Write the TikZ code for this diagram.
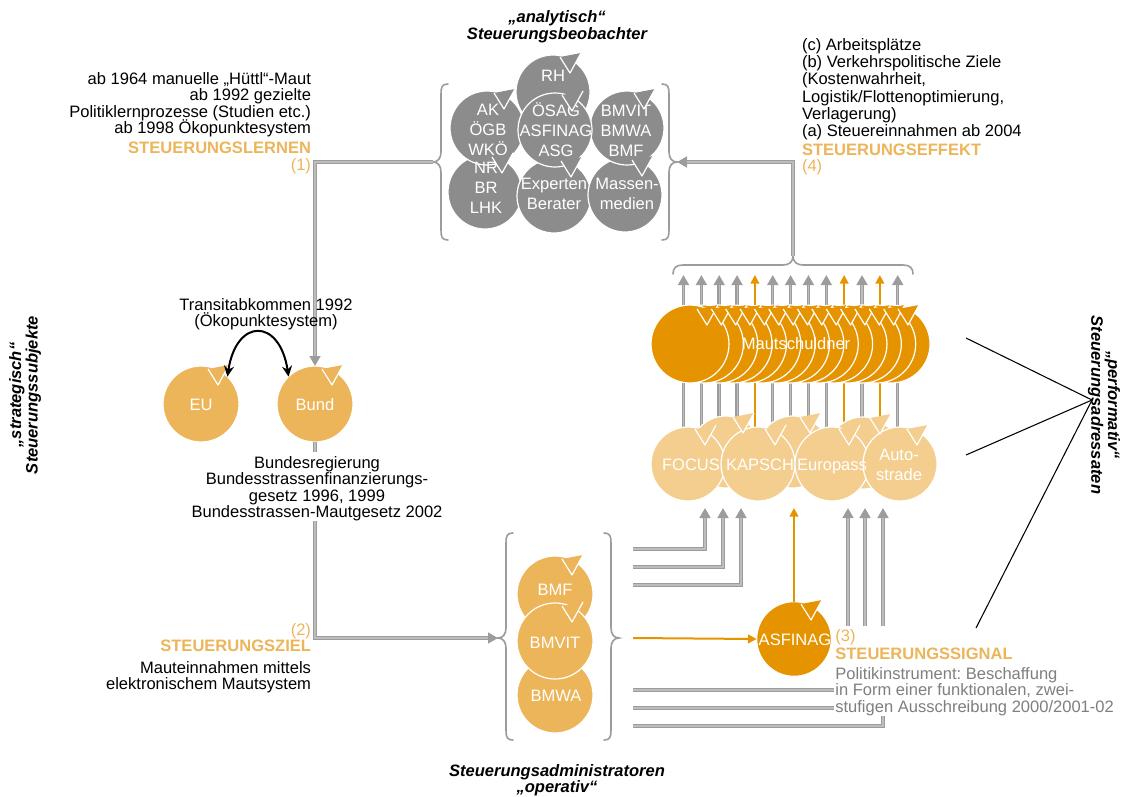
\documentclass[tikz,border=0pt]{standalone}
\usepackage{fontspec}
\setmainfont{Liberation Sans}
\usetikzlibrary{arrows.meta,calc}
\frenchspacing
\definecolor{cgray}{HTML}{8C8C8C}
\definecolor{cmid}{HTML}{EDB55A}
\definecolor{clight}{HTML}{F3CE8E}
\definecolor{cdark}{HTML}{E59400}
\definecolor{lgray}{HTML}{BDBDBD}
\definecolor{bgray}{HTML}{9C9C9C}
\definecolor{tgray}{HTML}{7F7F7F}
\newcommand\myfs{\fontsize{12.4pt}{12.4pt}\selectfont\lineskiplimit=-20pt\lineskip=0pt}
\newcommand\myfsb{\fontsize{12.4pt}{13pt}\selectfont\lineskiplimit=-20pt\lineskip=0pt}
\newcommand\myfsc{\fontsize{12.4pt}{15pt}\selectfont\lineskiplimit=-20pt\lineskip=0pt}
\newcommand\firststrut{\rule{0pt}{12pt}}
\newcommand\circtri[2]{%
  \fill[#2] ($(#1.center)+(7,-35)$) -- ($(#1.center)+(17,-19)$) -- ($(#1.center)+(28,-39)$) -- cycle;
  \draw[white,line width=0.9pt,line join=round] ($(#1.center)+(7,-35)$) -- ($(#1.center)+(17,-19)$) -- ($(#1.center)+(28,-39)$);}
\tikzset{
  zsep/.style={inner sep=0pt, outer sep=0pt},
  txt/.style={zsep, font=\myfs, text=black},
  otxt/.style={zsep, font=\myfs, text=cmid},
  ttl/.style={zsep, font=\myfs\bfseries\itshape, text=black},
  ctxt/.style={zsep, font=\myfsc, text=white, align=center},
  circbase/.style={circle, inner sep=0pt, outer sep=0pt, draw=white, line width=0.9pt},
  circg/.style={circbase, minimum size=55.5pt, fill=cgray},
  circm/.style={circbase, minimum size=57pt, fill=cmid},
  circl/.style={circbase, minimum size=55.5pt, fill=clight},
  circlb/.style={circbase, minimum size=54pt, fill=clight},
  circd/.style={circbase, minimum size=58.5pt, fill=cdark},
  circa/.style={circbase, minimum size=56pt, fill=cdark},
  garrow/.style={draw=bgray, line width=2.6pt, -{Triangle[length=7.5pt,width=8pt]},
     postaction={draw=lgray, line width=0.8pt, -, shorten >=7.5pt}},
  oarrow/.style={draw=cdark, line width=1.5pt, -{Triangle[length=6.5pt,width=6.5pt]}},
  bracepath/.style={draw=bgray, line width=1.2pt, line cap=round},
  bline/.style={draw=black, line width=0.8pt},
  blkarrow/.style={draw=black, line width=1.5pt, {Stealth[length=8pt,width=7.5pt]}-{Stealth[length=8pt,width=7.5pt]}},
}
\begin{document}
\begin{tikzpicture}[x=0.75pt,y=-0.75pt]
\useasboundingbox (0,0) rectangle (1123,796);
\fill[white] (0,0) rectangle (1123,796);

% ---------- titles
\node[ttl,anchor=base] (tA1) at (557,22) {„analytisch“};
\node[ttl,anchor=base] (tA2) at (557,39) {Steuerungsbeobachter};
\node[ttl,anchor=base] (tB1) at (557,776) {Steuerungsadministratoren};
\node[ttl,anchor=base] (tB2) at (557,792) {„operativ“};
\node[ttl,rotate=90,align=center] (tL) at (25,395) {„strategisch“\\Steuerungssubjekte};
\node[ttl,rotate=-90,align=center] (tR) at (1104,405) {„performativ“\\Steuerungsadressaten};

% ---------- braces
\coordinate (cbl) at (433,162);
\coordinate (cbr) at (677,162);
\coordinate (bbl) at (498,638);
\coordinate (bbr) at (619,638);
\coordinate (mbt) at (793,256);
\draw[bracepath] (448,84) .. controls (442,84) and (441,87) .. (441,94) -- (441,152) .. controls (441,158) and (438,162) .. (cbl) .. controls (438,162) and (441,166) .. (441,172) -- (441,230) .. controls (441,237) and (442,240) .. (448,240);
\draw[bracepath] (662,84) .. controls (668,84) and (669,87) .. (669,94) -- (669,152) .. controls (669,158) and (672,162) .. (cbr) .. controls (672,162) and (669,166) .. (669,172) -- (669,230) .. controls (669,237) and (668,240) .. (662,240);
\draw[bracepath] (513,533) .. controls (507,533) and (506,536) .. (506,543) -- (506,628) .. controls (506,634) and (503,638) .. (bbl) .. controls (503,638) and (506,642) .. (506,648) -- (506,730) .. controls (506,737) and (507,740) .. (513,740);
\draw[bracepath] (604,533) .. controls (610,533) and (611,536) .. (611,543) -- (611,628) .. controls (611,634) and (614,638) .. (bbr) .. controls (614,638) and (611,642) .. (611,648) -- (611,730) .. controls (611,737) and (610,740) .. (604,740);
\draw[bracepath] (673,274) .. controls (673,268) and (676,265) .. (683,265) -- (783,265) .. controls (789,265) and (793,262) .. (mbt) .. controls (793,262) and (797,265) .. (803,265) -- (903,265) .. controls (910,265) and (913,268) .. (913,274);

% ---------- vertical arrows through Mautschuldner
\foreach \k in {0,...,12} {
  \coordinate (mlo\k) at ({683.5+17.85*\k},445);
  \coordinate (mhi\k) at ({683.5+17.85*\k},275);
}
\foreach \k in {0,1,2,3,5,6,7,8,10,12} {\draw[garrow] (mlo\k) -- (mhi\k);}
\foreach \k in {4,9,11} {\draw[oarrow] (mlo\k) -- (mhi\k);}

% ---------- coordinates for free connector ends
\coordinate (s1) at (633,549); \coordinate (e1) at (705,508);
\coordinate (s2) at (633,567); \coordinate (e2) at (723,508);
\coordinate (s3) at (633,585); \coordinate (e3) at (741,508);
\coordinate (s4) at (633,690); \coordinate (e4) at (848,508);
\coordinate (s5) at (633,708); \coordinate (e5) at (865,508);
\coordinate (s6) at (633,726); \coordinate (e6) at (883,508);
\coordinate (so) at (633,638);
\coordinate (eo) at (794,508);

% ---------- circles: EU / Bund
\node[circm] (eu) at (201,404) {};
\node[circm] (bund) at (315,404) {};

% ---------- gray connectors
\draw[garrow] (cbl) -| (bund.north);
\draw[garrow] (bund.south) |- (bbl);
\draw[garrow] (mbt) |- (cbr);
\draw[garrow] (s1) -| (e1);
\draw[garrow] (s2) -| (e2);
\draw[garrow] (s3) -| (e3);
\draw[garrow] (s4) -| (e4);
\draw[garrow] (s5) -| (e5);
\draw[garrow] (s6) -| (e6);

% ---------- gray cluster
\node[circg] (nr) at (485,192) {};
\node[circg] (exp) at (554,196) {};
\node[circg] (mas) at (625,195) {};
\node[circg] (rh) at (553,92) {};
\node[circg] (ak) at (487,128) {};
\node[circg] (bmvm) at (627,128) {};
\node[circg] (osag) at (555,130) {};
\node[ctxt,anchor=base] (rht) at (553,81) {RH};
\node[ctxt,anchor=north] (akt) at (488,99.5) {\firststrut AK\\ÖGB\\WKÖ};
\node[ctxt,anchor=north] (osagt) at (556,100) {\firststrut ÖSAG\\ASFINAG\\ASG};
\node[ctxt,anchor=north] (bmvmt) at (626,100) {\firststrut BMVIT\\BMWA\\BMF};
\node[ctxt,anchor=north] (nrt) at (486,157) {\firststrut NR\\BR\\LHK};
\node[ctxt,anchor=north] (expt) at (554,173.5) {\firststrut Experten\\Berater};
\node[ctxt,anchor=north] (mast) at (627,173.5) {\firststrut Massen-\\medien};
\circtri{nr}{cgray}
\circtri{exp}{cgray}
\circtri{mas}{cgray}
\circtri{rh}{cgray}
\circtri{ak}{cgray}
\circtri{bmvm}{cgray}
\circtri{osag}{cgray}

% ---------- Mautschuldner stack
\foreach \k in {14,13,...,0} {\node[circd] (ms\k) at ({690+14.36*\k},344) {};}
\foreach \k in {0,...,14} {\circtri{ms\k}{cdark}}
\node[ctxt,anchor=base] (mst) at (796,349) {Mautschuldner};

% ---------- firms row
\node[circlb] (fb1) at (726,452) {};
\node[circlb] (fb2) at (793,452) {};
\node[circlb] (fb3) at (863,453) {};
\node[circl] (focus) at (688,464) {};
\node[circl] (kapsch) at (758,464) {};
\node[circl] (europass) at (832,464) {};
\node[circl] (autostr) at (900,464) {};
\foreach \n in {fb1,fb2,fb3,focus,kapsch,europass,autostr} {\circtri{\n}{clight}}
\node[ctxt,anchor=base] (focust) at (691,470) {FOCUS};
\node[ctxt,anchor=base] (kapscht) at (760,470) {KAPSCH};
\node[ctxt,anchor=base] (europasst) at (832,470) {Europass};
\node[ctxt,anchor=north] (autostrt) at (899,444) {\firststrut Auto-\\strade};

% ---------- administrators
\node[circm] (bmwa) at (555,695) {};
\node[circm] (bmf) at (555,594) {};
\node[circm] (bmvit) at (555,641) {};
\circtri{bmf}{cmid}
\circtri{bmvit}{cmid}
\node[ctxt,anchor=base] (bmft) at (555,595) {BMF};
\node[ctxt,anchor=base] (bmvitt) at (555,648) {BMVIT};
\node[ctxt,anchor=base] (bmwat) at (556,701.5) {BMWA};

% ---------- ASFINAG
\node[circa] (asf) at (794,639) {};
\draw[oarrow] (so) -- (asf.west);
\draw[oarrow] (asf.north) -- (eo);
\circtri{asf}{cdark}
\node[ctxt,anchor=base] (asft) at (795,645) {ASFINAG};

% ---------- EU / Bund
\circtri{eu}{cmid}
\circtri{bund}{cmid}
\node[ctxt,anchor=base] (eut) at (201,410) {EU};
\node[ctxt,anchor=base] (bundt) at (315,410) {Bund};
\draw[blkarrow] (eu.46) .. controls +(9,-59) and +(-9,-59) .. (bund.134);

% ---------- text blocks
\node[txt,anchor=north east,align=right] (learn) at (311,68) {\firststrut ab 1964 manuelle „Hüttl“-Maut\\ab 1992 gezielte\hspace*{4pt}\\Politiklernprozesse (Studien etc.)\\ab 1998 Ökopunktesystem};
\node[otxt,anchor=base east] (learnlbl) at (311,153) {\bfseries STEUERUNGSLERNEN};
\node[otxt,anchor=base east] (learnnum) at (311,170) {(1)};

\node[txt,anchor=north west,align=left,font=\myfsb] (eff) at (802,34) {\firststrut (c) Arbeitsplätze\\(b) Verkehrspolitische Ziele\\(Kostenwahrheit,\\Logistik/Flottenoptimierung,\\Verlagerung)\\(a) Steuereinnahmen ab 2004};
\node[otxt,anchor=base west] (efflbl) at (802,155) {\bfseries STEUERUNGSEFFEKT};
\node[otxt,anchor=base west] (effnum) at (802,171.5) {(4)};

\node[txt,anchor=north,align=center] (transit) at (266,294) {\firststrut Transitabkommen 1992\\(Ökopunktesystem)};

\node[txt,anchor=north,align=center,fill=white] (gesetz) at (317,452) {\firststrut Bundesregierung\\Bundesstrassenfinanzierungs-\\gesetz 1996, 1999\\Bundesstrassen-Mautgesetz 2002};

\node[otxt,anchor=base east] (zielnum) at (311,635) {(2)};
\node[otxt,anchor=base east] (ziellbl) at (311,651.7) {\bfseries STEUERUNGSZIEL};
\node[txt,anchor=north east,align=right] (zieltxt) at (311,657) {\firststrut Mauteinnahmen mittels\\elektronischem Mautsystem};

\node[txt,anchor=north west,align=left,fill=white,inner xsep=1pt] (signal) at (834,625.7) {\firststrut{\color{cmid}(3)}\\[0.7pt]{\color{cmid}\bfseries STEUERUNGSSIGNAL}\\[2.5pt]{\color{tgray}Politikinstrument: Beschaffung}\\{\color{tgray}in Form einer funktionalen, zwei-}\\{\color{tgray}stufigen Ausschreibung 2000/2001-02}};

% ---------- black lines
\coordinate (pv) at (1092,400);
\coordinate (pa) at (966,338);
\coordinate (pb) at (966,455);
\coordinate (pc) at (976,628);
\draw[bline] (pa) -- (pv) -- (pb);
\draw[bline] (pc) -- (pv);
\end{tikzpicture}
\end{document}
